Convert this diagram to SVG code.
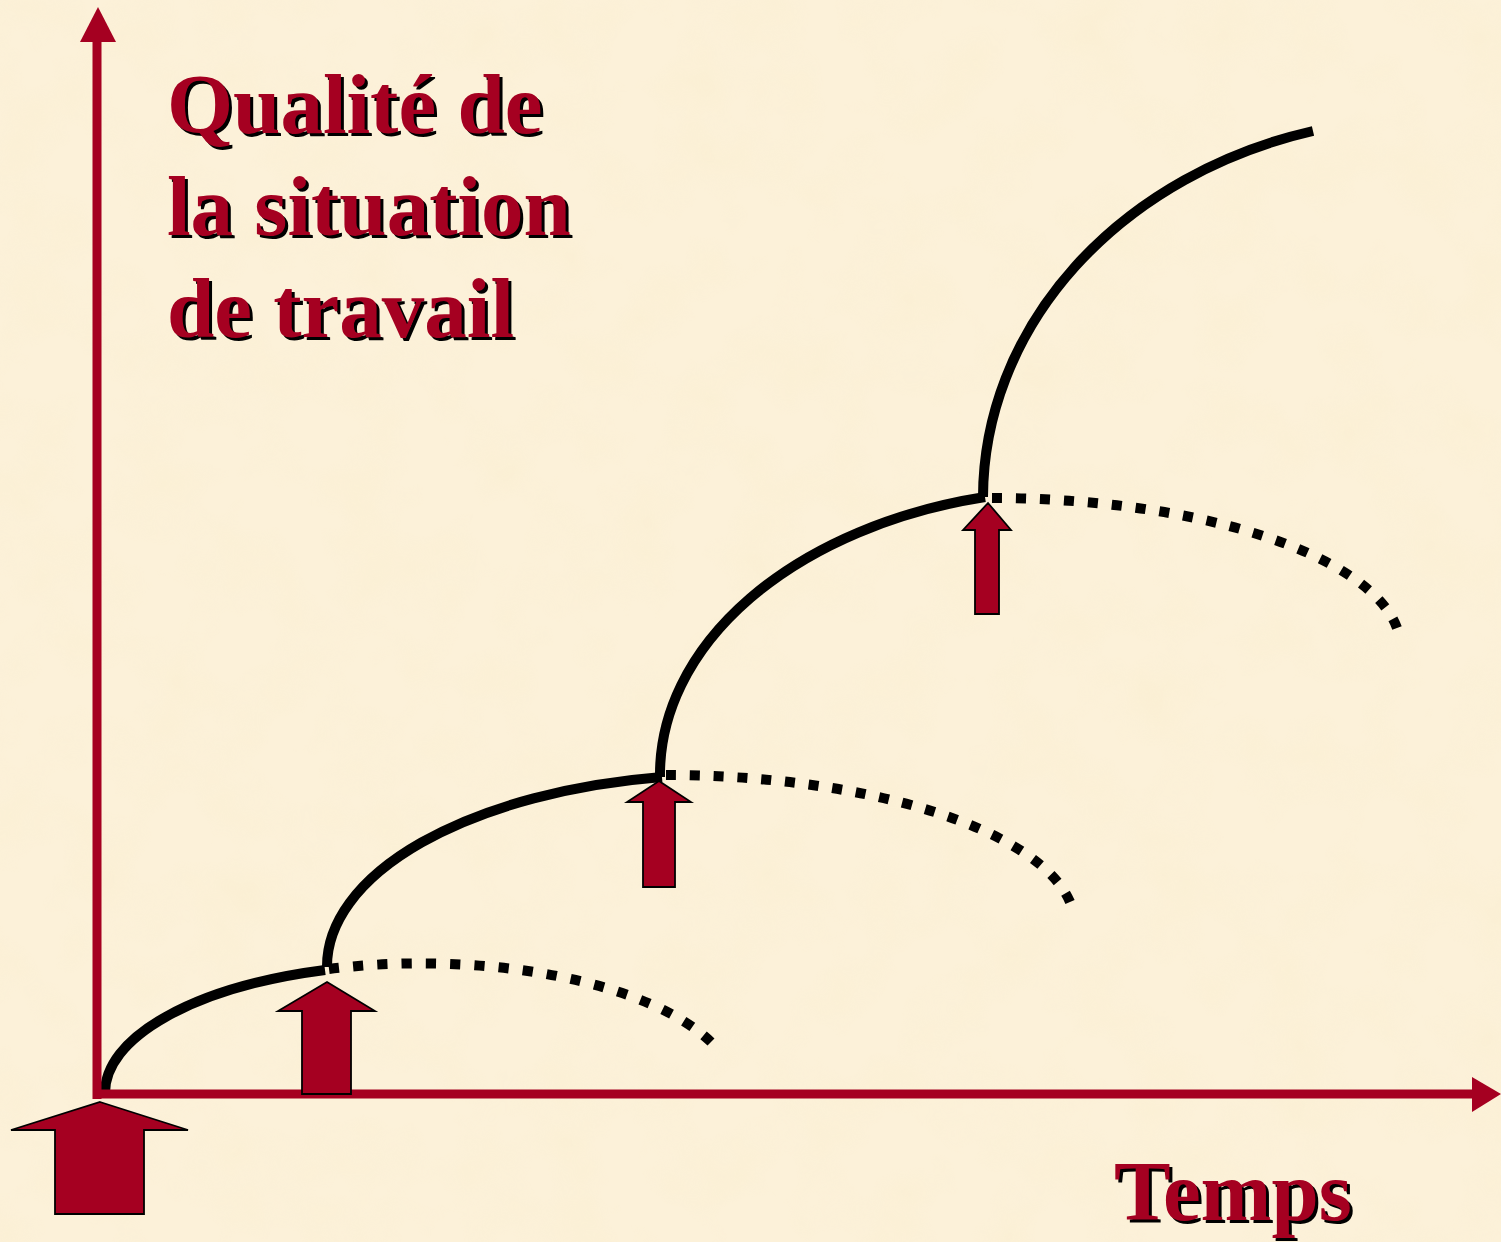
<svg xmlns="http://www.w3.org/2000/svg" width="1501" height="1242" viewBox="0 0 1501 1242">
  <style>
    .lbl { font-family: "Liberation Serif", "Times New Roman", serif; font-weight: bold; font-size: 85px; }
    .fg { fill: #A50021; }
    .sh { fill: #000000; }
    .axis { stroke: #A50021; stroke-width: 9; fill: none; }
    .axhead { fill: #A50021; }
    .solid { stroke: #000000; stroke-width: 10; fill: none; }
    .dot { stroke: #000000; stroke-width: 10; fill: none; stroke-dasharray: 0.42 0.58; }
    .blk { fill: #A50021; stroke: #000000; stroke-width: 1.8; stroke-linejoin: miter; }
  </style>
  <defs>
    <filter id="tex" x="0" y="0" width="100%" height="100%">
      <feTurbulence type="fractalNoise" baseFrequency="0.015" numOctaves="3" seed="7"/>
      <feColorMatrix type="matrix" values="0 0 0 0 0.93  0 0 0 0 0.82  0 0 0 0 0.55  0.9 0 0 0 -0.38"/>
    </filter>
  </defs>
  <rect x="0" y="0" width="1501" height="1242" fill="#FCF1D9"/>
  <rect x="0" y="0" width="1501" height="1242" filter="url(#tex)" opacity="0.5"/>

  <g id="connectors">
    <path id="solid1" class="solid" d="M105,1093 A315,129 0 0 1 325,970"/>
    <path id="dotted1" class="dot" pathLength="16.42" d="M329,969 A315,129 0 0 1 711,1042"/>
    <path id="solid2" class="solid" d="M327,967 A400,192 0 0 1 662,777"/>
    <path id="dotted2" class="dot" pathLength="18.42" d="M666,775 A410,150 0 0 1 1070,902"/>
    <path id="solid3" class="solid" d="M660,777 A420,285 0 0 1 985,497"/>
    <path id="dotted3" class="dot" pathLength="18.42" d="M992,498 A410,150 0 0 1 1397,628"/>
    <path id="solid4" class="solid" d="M983,497 A445,380 0 0 1 1313,131"/>
  </g>

  <g id="axis-y">
    <line class="axis" x1="97" y1="1099" x2="97" y2="40"/>
    <polygon class="axhead" points="98,7 116,42 80,42"/>
  </g>
  <g id="axis-x">
    <line class="axis" x1="93" y1="1094" x2="1474" y2="1094"/>
    <polygon class="axhead" points="1501,1094 1472,1077 1472,1112"/>
  </g>

  <g id="arrow1">
    <polygon class="blk" points="100,1102 188,1130 144,1130 144,1214 55,1214 55,1130 11,1130"/>
  </g>
  <g id="arrow2">
    <polygon class="blk" points="327,982 375,1011 351,1011 351,1094 302,1094 302,1011 278,1011"/>
  </g>
  <g id="arrow3">
    <polygon class="blk" points="659,781 691,802 675,802 675,887 643,887 643,802 627,802"/>
  </g>
  <g id="arrow4">
    <polygon class="blk" points="988,503 1011,530 999,530 999,614 975,614 975,530 963,530"/>
  </g>

  <g id="ylabel">
    <text class="lbl sh" x="170" y="136">Qualité de</text>
    <text class="lbl sh" x="170" y="238">la situation</text>
    <text class="lbl sh" x="170" y="340">de travail</text>
    <text class="lbl fg" x="167" y="133">Qualité de</text>
    <text class="lbl fg" x="167" y="235">la situation</text>
    <text class="lbl fg" x="167" y="337">de travail</text>
  </g>
  <g id="xlabel">
    <text class="lbl sh" x="1117" y="1223">Temps</text>
    <text class="lbl fg" x="1114" y="1220">Temps</text>
  </g>
</svg>
